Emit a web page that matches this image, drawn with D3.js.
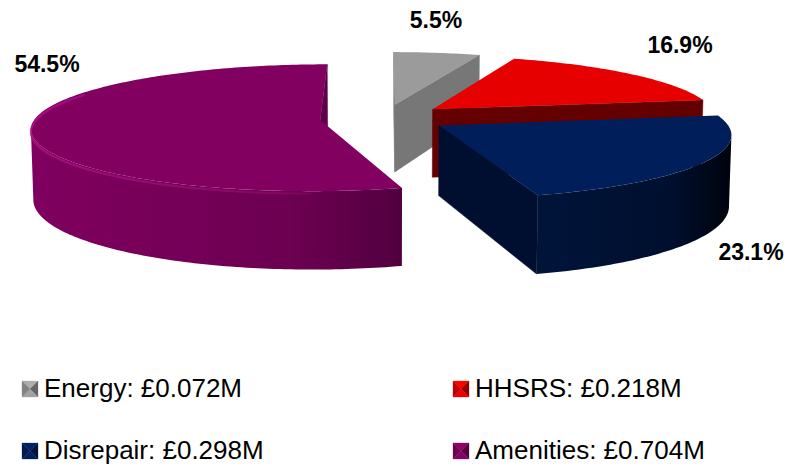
<!DOCTYPE html>
<meta charset="utf-8">
<script src="https://d3js.org/d3.v7.min.js"></script>
<style>
  body { margin: 0; background: #fff; }
  svg { display: block; }
</style>
<div id="my_dataviz"></div>
<script>

// data
var categories = ["Energy", "HHSRS", "Disrepair", "Amenities"];
var values = [0.072, 0.218, 0.298, 0.704];          // £M
var percentLabels = ["5.5%", "16.9%", "23.1%", "54.5%"];
var legendLabels = ["Energy: £0.072M", "HHSRS: £0.218M", "Disrepair: £0.298M", "Amenities: £0.704M"];

// colours per slice: top face, radial wall, outer wall light -> dark
var topColors  = ["#9b9b9b", "#e60000", "#001e5a", "#820060"];
var sideColors = ["#777777", "#640000", "#000f30", "#5e0046"];
var wallLight  = ["#8a8a8a", "#8a0000", "#00143a", "#80005f"];
var wallMid    = ["#707070", "#700000", "#000f2e", "#6c0051"];
var wallDark   = ["#5a5a5a", "#500000", "#00030c", "#520040"];

var width = 790, height = 466;

var svg = d3.select("#my_dataviz")
  .append("svg")
    .attr("width", width)
    .attr("height", height);
var defs = svg.append("defs");

// 3d view
var sinP = 0.2175, cosP = Math.sqrt(1 - sinP * sinP);
var D = 8, S = 285, cx = 384, cy = 118, H = 0.25, explode = 0.225;

function proj(X, Y, Z) {
  var dep = D + Y * cosP - Z * sinP;
  var k = S * D / dep;
  return [cx + X * k, cy - (Y * sinP + Z * cosP) * k];
}
var cam = [0, -D * cosP, D * sinP];
function facing(nx, ny, px, py) {
  return nx * (cam[0] - px) + ny * (cam[1] - py) > 0;
}

var arcs = d3.pie().sort(null).value(function(d) { return d; })(values);

var slices = arcs.map(function(a, i) {
  var mid = (a.startAngle + a.endAngle) / 2;
  return {
    i: i, a0: a.startAngle, a1: a.endAngle,
    ox: explode * Math.sin(mid), oy: explode * Math.cos(mid)
  };
});
// back to front
slices.sort(function(a, b) { return b.oy - a.oy; });

var line = d3.line();

slices.forEach(function(s) {
  var g = svg.append("g");
  function pt(t, r, z) {
    return proj(s.ox + r * Math.sin(t), s.oy + r * Math.cos(t), z);
  }
  var n = Math.max(4, Math.ceil((s.a1 - s.a0) / (2 * Math.PI) * 360));
  var ts = d3.range(n + 1).map(function(j) { return s.a0 + (s.a1 - s.a0) * j / n; });

  // radial walls
  [[s.a0, -Math.cos(s.a0), Math.sin(s.a0)], [s.a1, Math.cos(s.a1), -Math.sin(s.a1)]].forEach(function(w) {
    var t = w[0];
    var px = s.ox + 0.5 * Math.sin(t), py = s.oy + 0.5 * Math.cos(t);
    if (!facing(w[1], w[2], px, py)) return;
    var poly = [pt(t, 0, 0), pt(t, 1, 0), pt(t, 1, -H), pt(t, 0, -H)];
    g.append("path")
      .attr("d", line(poly) + "Z")
      .attr("fill", sideColors[s.i])
      .attr("stroke", sideColors[s.i])
      .attr("stroke-width", 0.5);
  });

  // outer wall: visible angles only, one polygon with a horizontal gradient
  var vis = ts.filter(function(t) {
    return facing(Math.sin(t), Math.cos(t), s.ox + Math.sin(t), s.oy + Math.cos(t));
  });
  if (vis.length > 1) {
    var upper = vis.map(function(t) { return pt(t, 1, 0); });
    var lower = vis.map(function(t) { return pt(t, 1, -H); }).reverse();
    var poly = upper.concat(lower);
    var xr = d3.extent(poly, function(p) { return p[0]; });
    var gid = "wall" + s.i;
    var grad = defs.append("linearGradient")
      .attr("id", gid)
      .attr("gradientUnits", "userSpaceOnUse")
      .attr("x1", xr[0]).attr("x2", xr[1]).attr("y1", 0).attr("y2", 0);
    grad.append("stop").attr("offset", "0").attr("stop-color", wallLight[s.i]);
    grad.append("stop").attr("offset", "0.7").attr("stop-color", wallMid[s.i]);
    grad.append("stop").attr("offset", "1").attr("stop-color", wallDark[s.i]);
    g.append("path")
      .attr("d", line(poly) + "Z")
      .attr("fill", "url(#" + gid + ")");
  }

  // top face
  var top = [pt(s.a0, 0, 0)].concat(ts.map(function(t) { return pt(t, 1, 0); }));
  g.append("path")
    .attr("d", line(top) + "Z")
    .attr("fill", topColors[s.i]);

  // rim highlight on the big slice
  if (categories[s.i] === "Amenities") {
    var rim = d3.range(180, 300, 2).map(function(deg) {
      var p = pt(deg * Math.PI / 180, 1, 0);
      return [p[0], p[1] + 2.5];
    });
    var rg = defs.append("linearGradient")
      .attr("id", "rimGrad")
      .attr("gradientUnits", "userSpaceOnUse")
      .attr("x1", 30).attr("x2", 400).attr("y1", 0).attr("y2", 0);
    rg.append("stop").attr("offset", "0").attr("stop-color", "#b0108a").attr("stop-opacity", 0.8);
    rg.append("stop").attr("offset", "0.6").attr("stop-color", "#a0107c").attr("stop-opacity", 0.45);
    rg.append("stop").attr("offset", "1").attr("stop-color", "#a0107c").attr("stop-opacity", 0);
    g.append("path")
      .attr("d", line(rim))
      .attr("fill", "none")
      .attr("stroke", "url(#rimGrad)")
      .attr("stroke-width", 2.2);
  }
});

// percentage labels
var labelPos = [[436, 28], [680, 53], [751, 260], [47, 72]];
svg.selectAll(".pct")
  .data(percentLabels)
  .enter()
  .append("text")
    .attr("class", "pct")
    .attr("x", function(d, i) { return labelPos[i][0]; })
    .attr("y", function(d, i) { return labelPos[i][1]; })
    .attr("text-anchor", "middle")
    .style("font-family", "'Liberation Sans', Arial, sans-serif")
    .style("font-size", "23px")
    .style("font-weight", "bold")
    .text(function(d) { return d; });

// legend (two columns, two rows)
var legX = d3.scaleOrdinal().domain([0, 1]).range([22, 453]);
var legY = d3.scaleOrdinal().domain([0, 1]).range([381, 443]);
var box = 16;

var leg = svg.selectAll(".leg")
  .data(legendLabels)
  .enter()
  .append("g")
    .attr("class", "leg")
    .attr("transform", function(d, i) {
      return "translate(" + legX(i % 2) + "," + legY(Math.floor(i / 2)) + ")";
    });

leg.each(function(d, i) {
  var g = d3.select(this);
  var base = d3.color(topColors[i]);
  var c = box / 2;
  var tris = [
    [[0, 0], [box, 0], [c, c], base.brighter(0.3)],
    [[box, 0], [box, box], [c, c], base.darker(1.2)],
    [[box, box], [0, box], [c, c], base.brighter(0.1)],
    [[0, box], [0, 0], [c, c], base.darker(0.5)]
  ];
  tris.forEach(function(t) {
    g.append("path")
      .attr("d", line([t[0], t[1], t[2]]) + "Z")
      .attr("fill", t[3])
      .attr("stroke", t[3])
      .attr("stroke-width", 0.3);
  });
  g.append("text")
    .attr("x", box + 6)
    .attr("y", box)
    .style("font-family", "'Liberation Sans', Arial, sans-serif")
    .style("font-size", "26px")
    .text(d);
});

</script>
